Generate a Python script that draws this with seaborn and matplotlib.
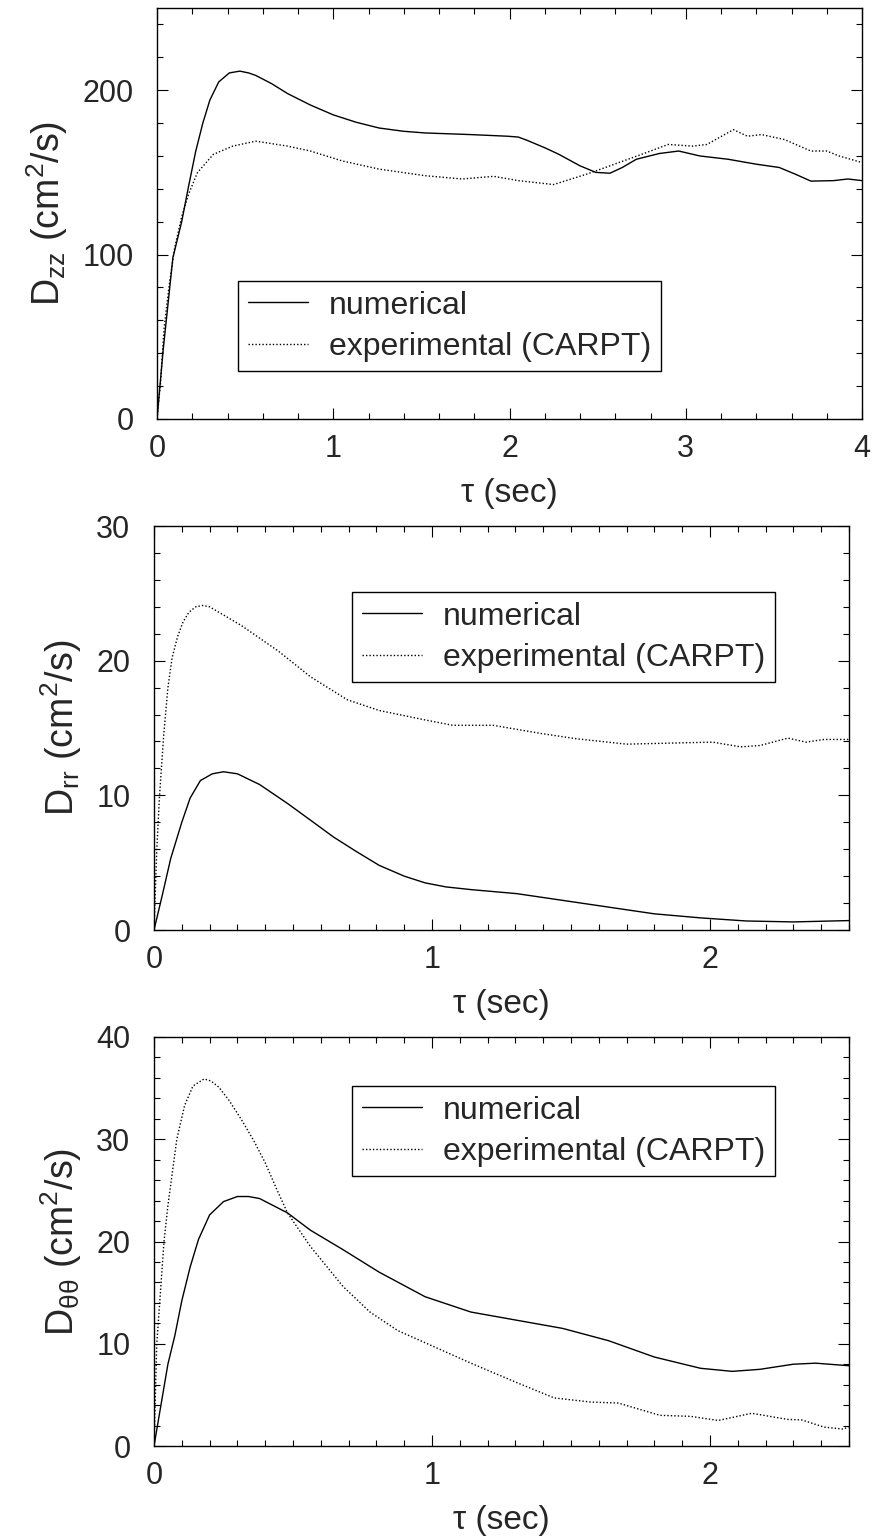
import matplotlib
matplotlib.use("Agg")
import matplotlib.pyplot as plt
from matplotlib.ticker import MultipleLocator
import seaborn as sns

# --- data (tau in sec, D in cm^2/s) ---

# D_zz
tau_zz_num = [0, 0.035, 0.09, 0.14, 0.18, 0.22, 0.26, 0.30, 0.35, 0.41, 0.47, 0.52, 0.56,
              0.65, 0.74, 0.87, 1.0, 1.13, 1.26, 1.40, 1.52, 1.78, 1.99, 2.05, 2.10, 2.20,
              2.28, 2.40, 2.49, 2.57, 2.64, 2.72, 2.85, 2.96, 3.08, 3.24, 3.40, 3.53,
              3.62, 3.71, 3.84, 3.92, 4.0]
dzz_num = [0, 42, 98, 120, 142, 163, 180, 194, 205, 210.5, 211.6, 210.5, 209,
           204, 198, 191, 185, 180.5, 177, 175, 174, 173, 172, 171.5, 169.5, 165,
           161, 154, 150, 149.5, 153, 158, 161.5, 163, 160, 158, 155, 153,
           149, 144.7, 145, 146, 145]
tau_zz_exp = [0, 0.02, 0.04, 0.07, 0.10, 0.14, 0.18, 0.23, 0.32, 0.43, 0.56, 0.74, 0.87,
              1.05, 1.26, 1.52, 1.73, 1.91, 2.05, 2.25, 2.44, 2.57, 2.75, 2.90, 3.04,
              3.12, 3.27, 3.35, 3.43, 3.56, 3.71, 3.80, 3.87, 4.0]
dzz_exp = [0, 22, 55, 82, 104, 123, 137, 150, 161, 166, 169, 166, 163,
           157, 152, 148, 146, 147.6, 145, 142.6, 149, 154, 161, 167, 166,
           167, 176, 172, 173, 170, 163, 163, 160, 156]

# D_rr
tau_rr_num = [0, 0.03, 0.06, 0.10, 0.13, 0.167, 0.21, 0.25, 0.30, 0.38, 0.48, 0.56, 0.646,
              0.73, 0.81, 0.90, 0.975, 1.05, 1.14, 1.305, 1.47, 1.635, 1.80, 1.966,
              2.13, 2.30, 2.5]
drr_num = [0, 2.6, 5.3, 8.0, 9.8, 11.1, 11.6, 11.75, 11.6, 10.8, 9.4, 8.2, 6.9,
           5.8, 4.8, 4.0, 3.5, 3.2, 3.0, 2.7, 2.2, 1.7, 1.2, 0.9,
           0.67, 0.6, 0.7]
tau_rr_exp = [0, 0.01, 0.02, 0.035, 0.05, 0.065, 0.085, 0.105, 0.126, 0.15, 0.175, 0.20,
              0.233, 0.315, 0.448, 0.563, 0.695, 0.81, 0.975, 1.075, 1.22, 1.39, 1.52,
              1.70, 1.90, 2.01, 2.11, 2.18, 2.28, 2.345, 2.41, 2.5]
drr_exp = [0, 6.0, 10.0, 14.5, 18.0, 20.2, 21.8, 22.9, 23.6, 24.0, 24.1, 24.0,
           23.6, 22.6, 20.7, 18.8, 17.1, 16.3, 15.6, 15.2, 15.2, 14.6, 14.2,
           13.8, 13.9, 13.95, 13.6, 13.7, 14.25, 13.95, 14.15, 14.15]

# D_thetatheta
tau_tt_num = [0, 0.025, 0.05, 0.075, 0.10, 0.13, 0.16, 0.20, 0.25, 0.30, 0.34, 0.38, 0.48,
              0.563, 0.68, 0.81, 0.975, 1.14, 1.305, 1.47, 1.635, 1.80, 1.966, 2.08,
              2.18, 2.30, 2.38, 2.5]
dtt_num = [0, 4.0, 8.0, 10.8, 14.2, 17.5, 20.2, 22.6, 23.9, 24.4, 24.4, 24.2, 22.8,
           21.1, 19.2, 17.0, 14.6, 13.1, 12.3, 11.5, 10.3, 8.7, 7.6, 7.3,
           7.5, 8.0, 8.1, 7.85]
tau_tt_exp = [0, 0.01, 0.036, 0.05, 0.082, 0.11, 0.14, 0.18, 0.205, 0.233, 0.27, 0.315,
              0.36, 0.40, 0.44, 0.48, 0.563, 0.68, 0.777, 0.876, 0.975, 1.14, 1.305,
              1.44, 1.57, 1.67, 1.82, 1.93, 2.03, 2.15, 2.28, 2.33, 2.41, 2.48, 2.5]
dtt_exp = [0, 10.0, 20.0, 23.5, 30.0, 33.3, 35.2, 35.9, 35.7, 35.1, 33.8, 31.9,
           29.8, 27.7, 25.2, 22.8, 19.5, 15.6, 13.1, 11.3, 10.1, 8.1, 6.2,
           4.7, 4.3, 4.2, 3.0, 2.9, 2.5, 3.2, 2.6, 2.55, 1.85, 1.65, 1.9]

labels = ["numerical", "experimental (CARPT)"]

sns.set_style("ticks")
plt.rcParams["font.family"] = ["Liberation Sans", "DejaVu Sans"]
plt.rcParams["mathtext.default"] = "regular"
plt.rcParams["mathtext.fontset"] = "custom"
plt.rcParams["mathtext.rm"] = "Liberation Sans"

W, H = 875, 1540
fig = plt.figure(figsize=(W / 100, H / 100), dpi=100)


def box(left, right, top, bottom):
    return [left / W, 1 - bottom / H, (right - left) / W, (bottom - top) / H]


panels = [
    dict(rect=box(157, 862, 8, 419), num=(tau_zz_num, dzz_num), exp=(tau_zz_exp, dzz_exp),
         xlim=4, ylim=250, xmin=0.2, ymaj=100, ymin=20,
         ylabel=r"D$_{zz}$ (cm$^2$/s)", leg=(238, 281)),
    dict(rect=box(154, 849, 526, 930), num=(tau_rr_num, drr_num), exp=(tau_rr_exp, drr_exp),
         xlim=2.5, ylim=30, xmin=0.1, ymaj=10, ymin=2,
         ylabel=r"D$_{rr}$ (cm$^2$/s)", leg=(352, 592)),
    dict(rect=box(154, 849, 1037, 1446), num=(tau_tt_num, dtt_num), exp=(tau_tt_exp, dtt_exp),
         xlim=2.5, ylim=40, xmin=0.1, ymaj=10, ymin=2,
         ylabel=r"D$_{θθ}$ (cm$^2$/s)", leg=(352, 1086)),
]

for p in panels:
    ax = fig.add_axes(p["rect"])
    sns.lineplot(x=p["num"][0], y=p["num"][1], ax=ax, color="black", lw=1.0,
                 sort=False, estimator=None, label=labels[0])
    sns.lineplot(x=p["exp"][0], y=p["exp"][1], ax=ax, color="black", lw=1.0,
                 linestyle=(0, (1, 1.5)), sort=False, estimator=None, label=labels[1])

    ax.set_xlim(0, p["xlim"])
    ax.set_ylim(0, p["ylim"])
    ax.xaxis.set_major_locator(MultipleLocator(1))
    ax.xaxis.set_minor_locator(MultipleLocator(p["xmin"]))
    ax.yaxis.set_major_locator(MultipleLocator(p["ymaj"]))
    ax.yaxis.set_minor_locator(MultipleLocator(p["ymin"]))
    ax.tick_params(which="both", direction="in", top=True, right=True,
                   color="black", width=0.8)
    ax.tick_params(which="major", length=8, labelsize=22)
    ax.tick_params(axis="y", which="major", pad=17)
    ax.tick_params(axis="x", which="major", pad=11)
    ax.tick_params(which="minor", length=4.5)
    for s in ax.spines.values():
        s.set_visible(True)
        s.set_color("black")
        s.set_linewidth(1.0)

    ax.set_xlabel("τ (sec)", fontsize=24, labelpad=10)
    ax.set_ylabel(p["ylabel"], fontsize=27, labelpad=9)

    lx, ly = p["leg"]
    leg = ax.legend(loc="upper left", bbox_to_anchor=(lx / W, 1 - ly / H),
                    bbox_transform=fig.transFigure, borderaxespad=0,
                    fontsize=23, frameon=True, fancybox=False, framealpha=1,
                    edgecolor="black", handlelength=1.9, handletextpad=0.65,
                    borderpad=0.3, labelspacing=0.35)
    leg.get_frame().set_linewidth(1.0)

fig.savefig("out.png", dpi=100)
